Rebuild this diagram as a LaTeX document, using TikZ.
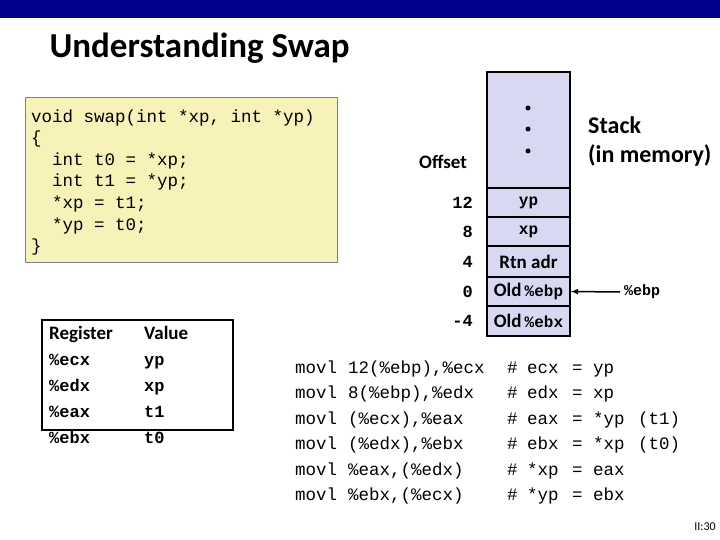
\documentclass[tikz,border=0pt]{standalone}
\usepackage{fontspec}
\setmainfont{Carlito}
\newfontfamily\codefont{Liberation Mono}
\usetikzlibrary{positioning}
\definecolor{barblue}{RGB}{0,0,140}
\definecolor{codebg}{RGB}{246,242,184}
\definecolor{stackbg}{RGB}{216,216,242}

\begin{document}
\begin{tikzpicture}[x=1pt,y=-1pt,>=latex,
    code/.style={anchor=base west,inner sep=0pt,font=\codefont\fontsize{17.5}{17.5}\selectfont},
    bcode/.style={code,font=\codefont\bfseries\fontsize{17}{17}\selectfont},
    lbl/.style={inner sep=0pt,font=\bfseries\fontsize{19}{19}\selectfont},
    cell/.style={draw,line width=1.5pt,fill=stackbg,minimum width=83pt,inner sep=0pt}]
  \useasboundingbox (0,0) rectangle (720,540);
  \fill[barblue] (0,0) rectangle (720,18);
  \node[anchor=west,font=\bfseries\fontsize{35}{35}\selectfont] (title) at (46,48) {Understanding Swap};

  % C code
  \draw[gray,fill=codebg] (25,97) rectangle (337,262);
  \foreach \t [count=\i] in {{void swap(int *xp, int *yp)},{\{},{\ \ int t0 = *xp;},{\ \ int t1 = *yp;},
      {\ \ *xp = t1;},{\ \ *yp = t0;},{\}}}
    \node[code] (c\i) at (31,101+21.5*\i) {\t};

  % register table
  \draw[line width=1.5pt] (42,320) rectangle (233,430);
  \node[lbl,anchor=base west] (rh) at (49,339) {Register};
  \node[lbl,anchor=base west] (vh) at (144,339) {Value};
  \foreach \r/\v [count=\i] in {ecx/yp,edx/xp,eax/t1,ebx/t0}{
    \node[bcode] (r\i) at (49,339+26*\i) {\%\r};
    \node[bcode] (v\i) at (144,339+26*\i) {\v};
  }

  % stack
  \draw[line width=1.5pt,fill=stackbg] (487,72) rectangle (570,188);
  \foreach \y in {108,129,151} \fill (528,\y) circle (2.5pt);
  \node[cell,minimum height=29pt,font=\codefont\bfseries\fontsize{16}{16}\selectfont] (s12) at (528.5,202.5) {yp};
  \node[cell,minimum height=29pt,font=\codefont\bfseries\fontsize{16}{16}\selectfont] (s8) at (528.5,231.5) {xp};
  \node[cell,minimum height=31pt,font=\bfseries\fontsize{19}{19}\selectfont] (s4) at (528.5,261.5) {Rtn adr};
  \node[cell,minimum height=29pt,font=\bfseries\fontsize{19}{19}\selectfont] (s0) at (528.5,291.5) {Old\,{\codefont\fontsize{16}{16}\selectfont\%ebp}};
  \node[cell,minimum height=30pt,font=\bfseries\fontsize{19}{19}\selectfont] (sm4) at (528.5,321) {Old\,{\codefont\fontsize{16}{16}\selectfont\%ebx}};
  \node[lbl] (off) at (443,162) {Offset};
  \foreach \o/\n in {12/s12,8/s8,4/s4,0/s0,-4/sm4}
    \node[lbl,anchor=east,font=\codefont\bfseries\fontsize{17}{17}\selectfont] at (473,0 |- \n) {\o};
  \node[anchor=west,align=left,inner sep=0pt,font=\bfseries\fontsize{24}{29}\selectfont] (stk) at (588,141) {Stack\\(in memory)};
  \node[code,font=\codefont\bfseries\fontsize{15}{15}\selectfont,anchor=west] (ebp) at (624,292) {\%ebp};
  \draw[->,line width=1.5pt] (ebp.west) ++(-4,0) -- (s0.east);

  % assembly
  \foreach \a/\b/\c/\d [count=\i from 0] in {{12(\%ebp),\%ecx}/{ecx}/{yp}/{},{8(\%ebp),\%edx}/{edx}/{xp}/{},
      {(\%ecx),\%eax}/{eax}/{*yp}/{(t1)},{(\%edx),\%ebx}/{ebx}/{*xp}/{(t0)},
      {\%eax,(\%edx)}/{*xp}/{eax}/{},{\%ebx,(\%ecx)}/{*yp}/{ebx}/{}}{
    \node[code] (m\i) at (295,373+25.5*\i) {movl};
    \node[code] (o\i) at (348,373+25.5*\i) {\a};
    \node[code] (h\i) at (507,373+25.5*\i) {\#};
    \node[code] (l\i) at (527,373+25.5*\i) {\b};
    \node[code] (e\i) at (572,373+25.5*\i) {=};
    \node[code] (q\i) at (593,373+25.5*\i) {\c};
    \node[code] (t\i) at (638,373+25.5*\i) {\d};
  }
  \node[anchor=east,inner sep=0pt,font=\fontsize{12}{12}\selectfont] (pg) at (716,527) {II:30};
\end{tikzpicture}
\end{document}
